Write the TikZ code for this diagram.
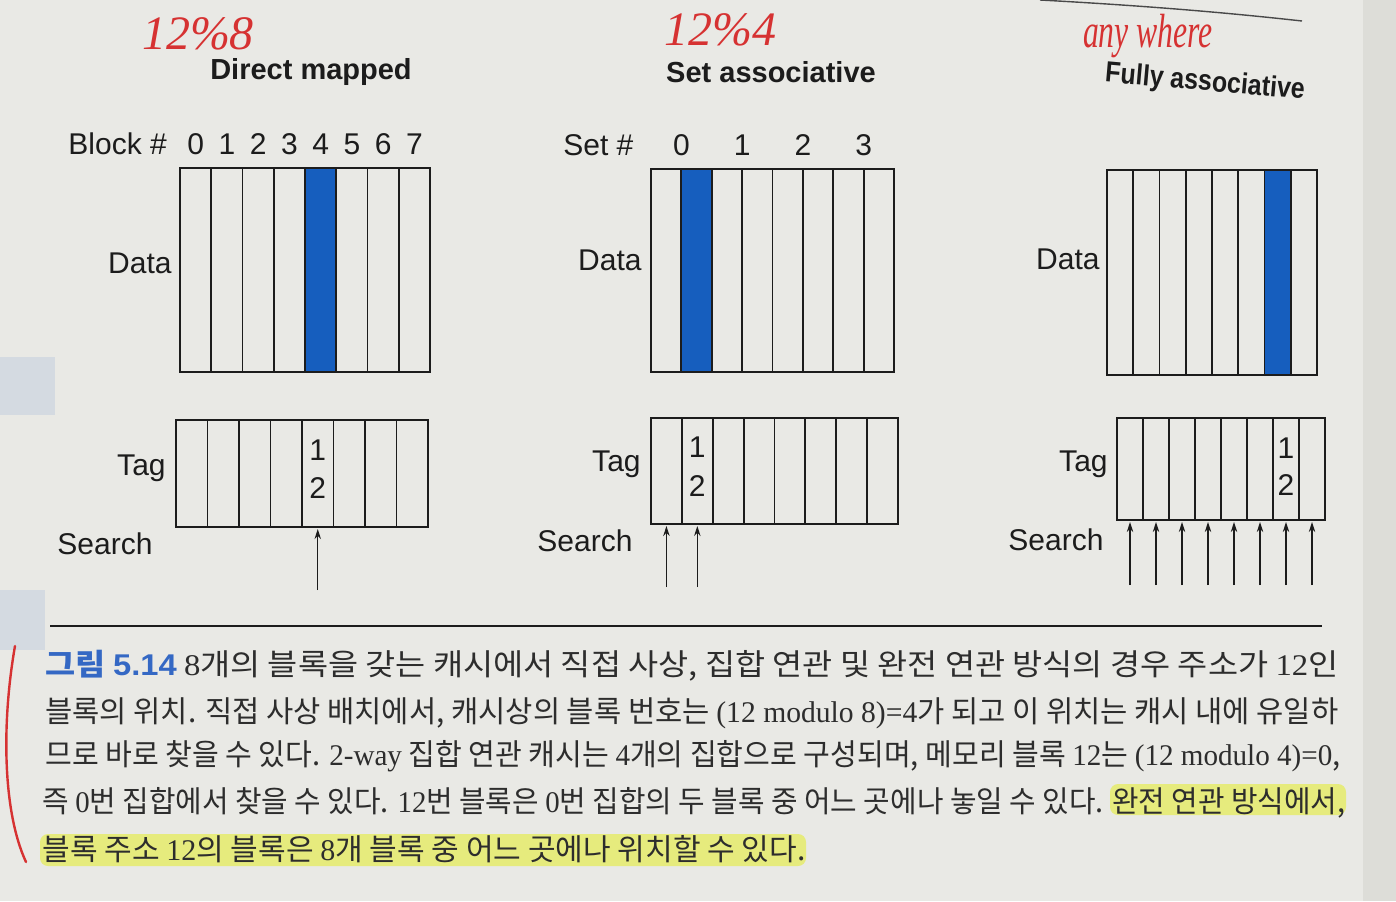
\documentclass[tikz,border=0pt]{standalone}
\usepackage{fontspec}
\usepackage{graphicx}
\usetikzlibrary{arrows.meta,calc}
\setmainfont{Liberation Sans}
\newfontfamily\krfont{Noto Sans CJK KR}
\newfontfamily\serfont{Liberation Serif}
\definecolor{paper}{RGB}{233,233,229}
\definecolor{papershade}{RGB}{221,221,216}
\definecolor{bleed}{RGB}{212,218,225}
\definecolor{cblue}{RGB}{22,94,190}
\definecolor{capblue}{RGB}{52,104,196}
\definecolor{ink}{RGB}{28,28,28}
\definecolor{inktwo}{RGB}{45,45,45}
\definecolor{redpen}{RGB}{214,50,50}
\definecolor{hilite}{RGB}{230,235,125}
\newcommand\lblfont{\fontsize{15}{18}\selectfont}
\newcommand\ttlfont{\fontsize{14.5}{17}\selectfont\bfseries}
\newcommand\capfont{\krfont\fontsize{15}{18}\selectfont}
\newcommand\handfont{\serfont\itshape\fontsize{24}{28}\selectfont}
\newcommand\sr[1]{{\serfont #1}}
\begin{document}
\begin{tikzpicture}[x=0.5pt,y=-0.5pt,
  lbl/.style={font=\lblfont, text=ink, inner sep=0pt},
  ttl/.style={font=\ttlfont, text=ink, inner sep=0pt},
  box/.style={draw=ink, line width=1pt, inner sep=0pt, outer sep=0pt, anchor=north west},
  colline/.style={draw=ink, line width=0.9pt},
  arr/.style={draw=ink, line width=0.6pt, shorten >=1pt, -{Stealth[length=5pt,width=3.2pt]}},
  hand/.style={font=\handfont, text=redpen, inner sep=0pt},
  capline/.style={font=\capfont, text=inktwo, inner sep=0pt, anchor=base west}]
\fill[paper] (0,0) rectangle (1396,901);
\useasboundingbox (0,0) rectangle (1396,901);
\fill[papershade] (1363,0) rectangle (1396,901);
\fill[bleed] (0,357) rectangle (55,415);
\fill[bleed] (0,590) rectangle (45,650);
\draw[ink!80, line width=0.7pt] (1040,0) .. controls (1150,6) and (1230,13) .. (1302,21);

% ---------- titles and handwriting ----------
\node[ttl] (tD) at (311,72) {Direct mapped};
\node[ttl] (tS) at (771,72) {Set associative};
\node[ttl, rotate=-5] (tF) at (1205,83) {\resizebox{100pt}{\height}{Fully associative}};
\node[hand] (hD) at (198,34) {12\%8};
\node[hand] (hS) at (720,30) {12\%4};
\node[hand] (hF) at (1148,36) {\resizebox{65pt}{\height}{any where}};

% ---------- Direct mapped ----------
\node[box, minimum width={250*0.5pt}, minimum height={204*0.5pt}] (dataD) at (180,168) {};
\fill[cblue] ($(dataD.north west)!4/8!(dataD.north east)$) rectangle ($(dataD.south west)!5/8!(dataD.south east)$);
\node[box, minimum width={250*0.5pt}, minimum height={204*0.5pt}] (dataD) at (180,168) {};
\foreach \i in {1,...,7}
  \draw[colline] ($(dataD.north west)!\i/8!(dataD.north east)$) -- ($(dataD.south west)!\i/8!(dataD.south east)$);
\foreach \i in {0,...,7}
  \node[lbl, anchor=mid] (bn\i) at ($(dataD.north west)!{(\i+0.5)/8}!(dataD.north east) + (0,-19)$) {\i};
\node[lbl, anchor=mid west] (blk) at (68,149) {Block \#};
\node[lbl, anchor=mid east] (dlD) at (172,268) {Data};
\node[box, minimum width={252*0.5pt}, minimum height={107*0.5pt}] (tagD) at (176,420) {};
\foreach \i in {1,...,7}
  \draw[colline] ($(tagD.north west)!\i/8!(tagD.north east)$) -- ($(tagD.south west)!\i/8!(tagD.south east)$);
\node[lbl, anchor=mid] (oD) at ($(tagD.north west)!{4.5/8}!(tagD.north east) + (0,35)$) {1};
\node[lbl, anchor=mid] (wD) at ($(tagD.north west)!{4.5/8}!(tagD.north east) + (0,73)$) {2};
\node[lbl, anchor=mid east] (tlD) at (166,470) {Tag};
\node[lbl, anchor=mid west] (slD) at (57,549) {Search};
\coordinate (aD) at ($(tagD.south west)!{4.5/8}!(tagD.south east) + (0,63)$);
\draw[arr] (aD) -- (aD |- tagD.south);

% ---------- Set associative ----------
\node[box, minimum width={243*0.5pt}, minimum height={203*0.5pt}] (dataS) at (651,169) {};
\fill[cblue] ($(dataS.north west)!1/8!(dataS.north east)$) rectangle ($(dataS.south west)!2/8!(dataS.south east)$);
\node[box, minimum width={243*0.5pt}, minimum height={203*0.5pt}] (dataS) at (651,169) {};
\foreach \i in {1,...,7}
  \draw[colline] ($(dataS.north west)!\i/8!(dataS.north east)$) -- ($(dataS.south west)!\i/8!(dataS.south east)$);
\foreach \i in {0,...,3}
  \node[lbl, anchor=mid] (sn\i) at ($(dataS.north west)!{(2*\i+1)/8}!(dataS.north east) + (0,-19)$) {\i};
\node[lbl, anchor=mid west] (setl) at (563,150) {Set \#};
\node[lbl, anchor=mid east] (dlS) at (642,265) {Data};
\node[box, minimum width={247*0.5pt}, minimum height={106*0.5pt}] (tagS) at (651,418) {};
\foreach \i in {1,...,7}
  \draw[colline] ($(tagS.north west)!\i/8!(tagS.north east)$) -- ($(tagS.south west)!\i/8!(tagS.south east)$);
\node[lbl, anchor=mid] (oS) at ($(tagS.north west)!{1.5/8}!(tagS.north east) + (0,34)$) {1};
\node[lbl, anchor=mid] (wS) at ($(tagS.north west)!{1.5/8}!(tagS.north east) + (0,73)$) {2};
\node[lbl, anchor=mid east] (tlS) at (641,466) {Tag};
\node[lbl, anchor=mid west] (slS) at (537,546) {Search};
\foreach \i in {0,1} {
  \coordinate (aS\i) at ($(tagS.south west)!{(\i+0.5)/8}!(tagS.south east) + (0,63)$);
  \draw[arr] (aS\i) -- (aS\i |- tagS.south);
}

% ---------- Fully associative ----------
\node[box, minimum width={210*0.5pt}, minimum height={205*0.5pt}] (dataF) at (1107,170) {};
\fill[cblue] ($(dataF.north west)!6/8!(dataF.north east)$) rectangle ($(dataF.south west)!7/8!(dataF.south east)$);
\node[box, minimum width={210*0.5pt}, minimum height={205*0.5pt}] (dataF) at (1107,170) {};
\foreach \i in {1,...,7}
  \draw[colline] ($(dataF.north west)!\i/8!(dataF.north east)$) -- ($(dataF.south west)!\i/8!(dataF.south east)$);
\node[lbl, anchor=mid east] (dlF) at (1100,264) {Data};
\node[box, minimum width={208*0.5pt}, minimum height={102*0.5pt}] (tagF) at (1117,418) {};
\foreach \i in {1,...,7}
  \draw[colline] ($(tagF.north west)!\i/8!(tagF.north east)$) -- ($(tagF.south west)!\i/8!(tagF.south east)$);
\node[lbl, anchor=mid] (oF) at ($(tagF.north west)!{6.5/8}!(tagF.north east) + (0,35)$) {1};
\node[lbl, anchor=mid] (wF) at ($(tagF.north west)!{6.5/8}!(tagF.north east) + (0,72)$) {2};
\node[lbl, anchor=mid east] (tlF) at (1108,466) {Tag};
\node[lbl, anchor=mid west] (slF) at (1008,545) {Search};
\foreach \i in {0,...,7} {
  \coordinate (aF\i) at ($(tagF.south west)!{(\i+0.5)/8}!(tagF.south east) + (0,65)$);
  \draw[arr] (aF\i) -- (aF\i |- tagF.south);
}

% ---------- rule and caption ----------
\draw[ink, line width=1.1pt] (50,626) -- (1322,626);
\fill[hilite, rounded corners=4pt] (1110,784) rectangle (1346,815);
\fill[hilite, rounded corners=4pt] (40,834) rectangle (806,866);
\node[capline] (c1) at (45,675) {\resizebox{646.5pt}{\height}{{\color{capblue}\bfseries 그림 {\fontspec{Liberation Sans}\bfseries 5.14}} \sr{8}개의 블록을 갖는 캐시에서 직접 사상, 집합 연관 및 완전 연관 방식의 경우 주소가 \sr{12}인}};
\node[capline] (c2) at (45,722) {\resizebox{646.5pt}{\height}{블록의 위치. 직접 사상 배치에서, 캐시상의 블록 번호는 \sr{(12 modulo 8)=4}가 되고 이 위치는 캐시 내에 유일하}};
\node[capline] (c3) at (45,765) {\resizebox{647.5pt}{\height}{므로 바로 찾을 수 있다. \sr{2-way} 집합 연관 캐시는 \sr{4}개의 집합으로 구성되며, 메모리 블록 \sr{12}는 \sr{(12 modulo 4)=0},}};
\node[capline] (c4) at (42,812) {\resizebox{651.5pt}{\height}{즉 \sr{0}번 집합에서 찾을 수 있다. \sr{12}번 블록은 \sr{0}번 집합의 두 블록 중 어느 곳에나 놓일 수 있다. 완전 연관 방식에서,}};
\node[capline] (c5) at (42,860) {\resizebox{381.5pt}{\height}{블록 주소 \sr{12}의 블록은 \sr{8}개 블록 중 어느 곳에나 위치할 수 있다.}};
\draw[redpen, line width=1.2pt, line cap=round] (15,646) .. controls (2,720) and (2,810) .. (26,862);
\end{tikzpicture}
\end{document}
